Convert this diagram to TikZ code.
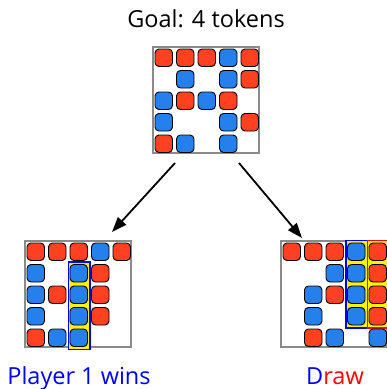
\documentclass[tikz,border=0pt]{standalone}
\usepackage{fontspec}
\setmainfont{Open Sans}
\usetikzlibrary{arrows.meta}

\definecolor{framegray}{HTML}{8A8A8A}
\definecolor{R}{HTML}{FF4121}
\definecolor{B}{HTML}{2680EB}

\tikzset{
  token/.style={draw=black, line width=0.9pt, rounded corners=4pt},
  frame/.style={draw=framegray, line width=2.4pt, fill=white, minimum size=106pt, inner sep=0pt},
  hilite/.style={fill=yellow, line width=1.8pt},
  move/.style={-{Triangle[length=15pt,width=11pt]}, line width=1.8pt},
  caption/.style={font=\fontsize{23.5}{26}\selectfont, anchor=base}
}

\begin{document}
\begin{tikzpicture}[x=1pt, y=-1pt]
    \useasboundingbox (0,0) rectangle (387,389);

    \node[caption] (goal) at (206,27) {Goal: 4 tokens};

    % boards
    \node[frame] (top) at (206,100) {};
    \node[frame] (left) at (78,294) {};
    \node[frame] (right) at (334,294) {};

    % top board
    \begin{scope}[shift={(153,47)}]
      \foreach \c/\r/\col in {0/0/R,1/0/R,2/0/R,3/0/B,4/0/R,
                              1/1/B,3/1/B,4/1/R,
                              0/2/B,1/2/R,2/2/B,3/2/R,
                              0/3/B,3/3/B,4/3/R,
                              0/4/R,1/4/B,3/4/B}
        \draw[token, fill=\col] (2+21.5*\c,2+21.5*\r) rectangle ++(17.5,17.5);
    \end{scope}

    % player 1 wins
    \begin{scope}[shift={(25,241)}]
      \draw[hilite, draw=blue] (2+21.5*2-1.5,2+21.5*1-2.5) rectangle (2+21.5*2+20,2+21.5*4+20.5);
      \foreach \c/\r/\col in {0/0/R,1/0/R,2/0/R,3/0/B,4/0/R,
                              0/1/B,2/1/B,3/1/R,
                              0/2/B,1/2/R,2/2/B,3/2/R,
                              0/3/B,2/3/B,3/3/R,
                              0/4/R,1/4/B,2/4/B}
        \draw[token, fill=\col] (2+21.5*\c,2+21.5*\r) rectangle ++(17.5,17.5);
    \end{scope}

    % draw
    \begin{scope}[shift={(281,241)}]
      \draw[hilite, draw=blue] (2+21.5*3-1.5,2-2.5) rectangle (2+21.5*3+20,2+21.5*3+20.5);
      \draw[hilite, draw=red] (2+21.5*4-1.5,2-2.5) rectangle (2+21.5*4+20,2+21.5*3+20.5);
      \foreach \c/\r/\col in {0/0/R,1/0/R,2/0/R,3/0/B,4/0/R,
                              2/1/B,3/1/B,4/1/R,
                              1/2/B,2/2/R,3/2/B,4/2/R,
                              1/3/B,3/3/B,4/3/R,
                              1/4/R,2/4/B,4/4/B}
        \draw[token, fill=\col] (2+21.5*\c,2+21.5*\r) rectangle ++(17.5,17.5);
    \end{scope}

    \coordinate (ls) at (175,163);
    \coordinate (le) at (112,232);
    \coordinate (rs) at (239,163);
    \coordinate (re) at (302,238);
    \draw[move] (ls) -- (le);
    \draw[move] (rs) -- (re);

    \node[caption, text=blue] (win) at (79,384) {Player 1 wins};
    \node[caption] (tie) at (335,384) {\textcolor{blue}{D}\textcolor{red}{raw}};
\end{tikzpicture}
\end{document}
